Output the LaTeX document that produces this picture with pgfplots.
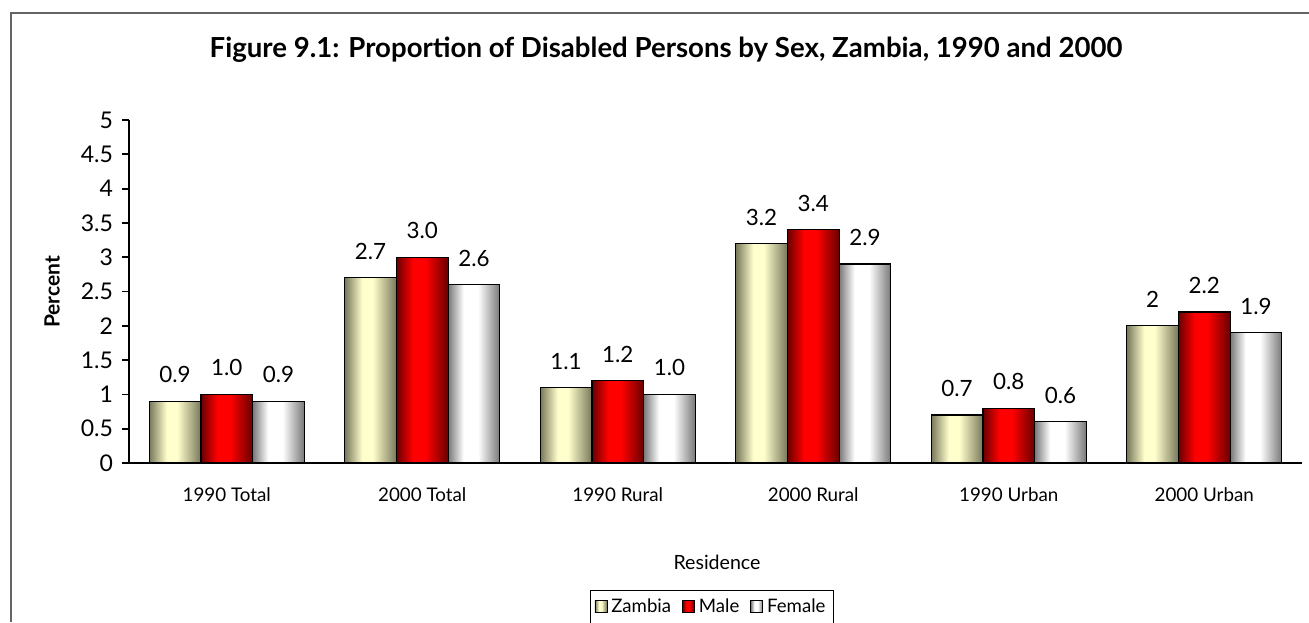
\documentclass[border=0pt]{standalone}
\usepackage{fontspec}
\setmainfont{Lato}
\usepackage{pgfplots}
\pgfplotsset{compat=1.18}
\definecolor{zdark}{RGB}{120,120,90}
\definecolor{zlight}{RGB}{255,255,205}
\definecolor{mdark}{RGB}{105,0,0}
\definecolor{mlight}{RGB}{255,0,0}
\definecolor{fdark}{RGB}{120,120,120}
\definecolor{flight}{RGB}{255,255,255}
\definecolor{framegray}{RGB}{100,100,100}
\pgfdeclarehorizontalshading{zshade}{100bp}{color(0bp)=(zdark); color(25bp)=(zdark); color(42bp)=(zlight); color(52bp)=(zlight); color(75bp)=(zdark); color(100bp)=(zdark)}
\pgfdeclarehorizontalshading{mshade}{100bp}{color(0bp)=(mdark); color(25bp)=(mdark); color(41bp)=(mlight); color(53bp)=(mlight); color(75bp)=(mdark); color(100bp)=(mdark)}
\pgfdeclarehorizontalshading{fshade}{100bp}{color(0bp)=(fdark); color(25bp)=(fdark); color(40bp)=(flight); color(54bp)=(flight); color(75bp)=(fdark); color(100bp)=(fdark)}
\pgfplotsset{
  barbase/.style={ybar, bar width=25.85pt, draw=black, line width=0.6pt,
    nodes near coords, point meta=explicit symbolic,
    every node near coord/.append style={text=black, yshift=5.5pt,
      font=\fontsize{11.2}{13}\selectfont}},
  zst/.style={barbase, bar shift=-25.85pt, shading=zshade,
    every node near coord/.append style={xshift=-25.85pt}},
  mst/.style={barbase, bar shift=0pt, shading=mshade},
  fst/.style={barbase, bar shift=25.85pt, shading=fshade,
    every node near coord/.append style={xshift=25.85pt}},
}
\begin{document}
\begin{tikzpicture}[x=0.5pt,y=0.5pt]
\path[use as bounding box] (0,0) rectangle (1309,622);
\draw[framegray, line width=1pt] (10.5,0) -- (10.5,608.5) -- (1309,608.5);
\node[font=\bfseries\fontsize{13.8}{16}\selectfont, anchor=base] at (666,564)
  {Figure 9.1: Proportion of Disabled Persons by Sex, Zambia, 1990 and 2000};
\node[font=\fontsize{9.8}{11}\selectfont] at (717,60) {Residence};
\node[font=\bfseries\fontsize{10.5}{12}\selectfont, rotate=90] at (52,330) {Percent};
\begin{axis}[
  at={(64.5pt,79.5pt)}, anchor=south west,
  scale only axis, width=586.5pt, height=171.5pt,
  xmin=-0.5, xmax=5.5, ymin=0, ymax=5,
  axis lines*=left, axis line style={-, line width=0.9pt},
  ytick={0,0.5,...,5},
  yticklabels={0,0.5,1,1.5,2,2.5,3,3.5,4,4.5,5},
  tick align=outside, major tick length=3.5pt,
  tick style={line width=0.9pt, black},
  xtick={0,...,5},
  xticklabels={1990 Total,2000 Total,1990 Rural,2000 Rural,1990 Urban,2000 Urban},
  x tick style={draw=none},
  minor xtick={-0.5,0.5,1.5,2.5,3.5,4.5,5.5},
  minor tick length=3.5pt,
  minor x tick style={line width=0.9pt, black},
  yticklabel style={font=\fontsize{11.5}{13}\selectfont, xshift=-1pt},
  xticklabel style={font=\fontsize{9.4}{11}\selectfont, yshift=-5.5pt},
  legend style={at={(axis description cs:0.497,-0.370)}, anchor=north,
    legend columns=-1, draw=black, line width=0.5pt,
    font=\fontsize{9.3}{11}\selectfont, inner sep=2pt,
    /tikz/every even column/.append style={column sep=3.5pt}},
  legend image code/.code={\draw[#1, line width=0.4pt] (0pt,-3pt) rectangle (6pt,3pt);},
  clip=false,
]
\addplot[zst] coordinates {(0,0.9) [0.9]};
\addlegendentry{Zambia}
\addplot[zst, forget plot] coordinates {(1,2.7) [2.7]};
\addplot[zst, forget plot] coordinates {(2,1.1) [1.1]};
\addplot[zst, forget plot] coordinates {(3,3.2) [3.2]};
\addplot[zst, forget plot] coordinates {(4,0.7) [0.7]};
\addplot[zst, forget plot] coordinates {(5,2.0) [2]};
\addplot[mst] coordinates {(0,1.0) [1.0]};
\addlegendentry{Male}
\addplot[mst, forget plot] coordinates {(1,3.0) [3.0]};
\addplot[mst, forget plot] coordinates {(2,1.2) [1.2]};
\addplot[mst, forget plot] coordinates {(3,3.4) [3.4]};
\addplot[mst, forget plot] coordinates {(4,0.8) [0.8]};
\addplot[mst, forget plot] coordinates {(5,2.2) [2.2]};
\addplot[fst] coordinates {(0,0.9) [0.9]};
\addlegendentry{Female}
\addplot[fst, forget plot] coordinates {(1,2.6) [2.6]};
\addplot[fst, forget plot] coordinates {(2,1.0) [1.0]};
\addplot[fst, forget plot] coordinates {(3,2.9) [2.9]};
\addplot[fst, forget plot] coordinates {(4,0.6) [0.6]};
\addplot[fst, forget plot] coordinates {(5,1.9) [1.9]};
\end{axis}
\end{tikzpicture}
\end{document}
